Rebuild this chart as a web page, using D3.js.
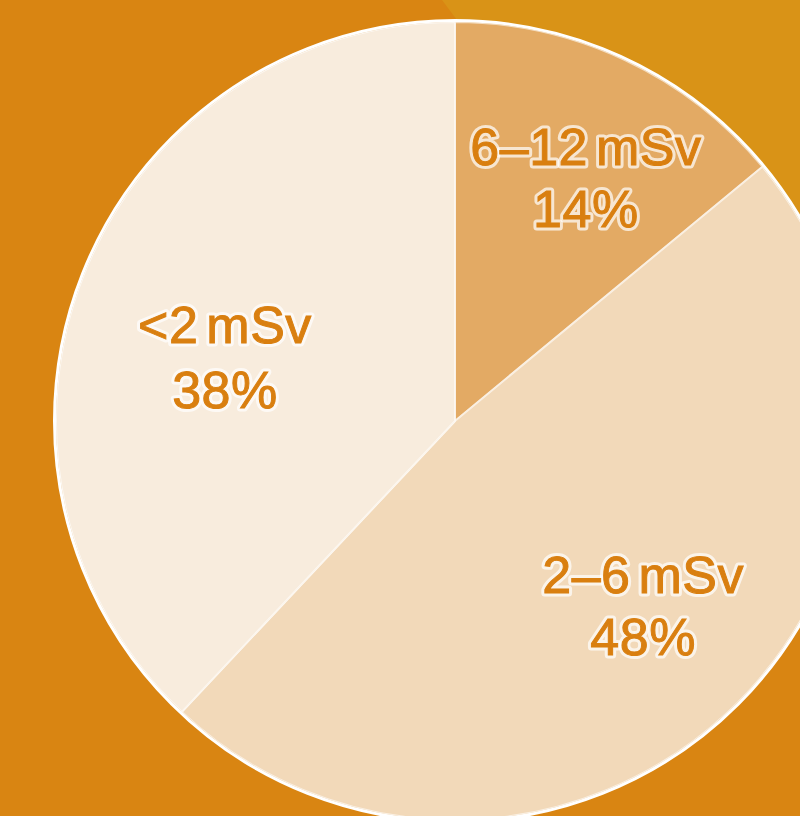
<!DOCTYPE html>
<html><head><meta charset="utf-8">
<script src="https://cdn.jsdelivr.net/npm/d3@7/dist/d3.min.js"></script>
<style>html,body{margin:0;padding:0;overflow:hidden;background:#D98512}</style>
</head><body>
<svg id="chart" width="800" height="816"></svg>
<script>
const categories = ["6–12 mSv", "2–6 mSv", "<2 mSv"];
const values = [14, 48, 38];
const percentLabels = ["14%", "48%", "38%"];
const sliceColors = ["#E3AA64", "#F2D9B9", "#F8ECDD"];

const svg = d3.select("#chart");
const W = 800, H = 816;
const cx = 455, cy = 421, R = 399;

svg.append("rect").attr("width", W).attr("height", H).attr("fill", "#D98512");
svg.append("path").attr("d", "M442,0 L800,0 L800,480 Z").attr("fill", "#D99317");

const data = categories.map((c, i) => ({cat: c, value: values[i], pct: percentLabels[i], color: sliceColors[i]}));
const pie = d3.pie().sort(null).value(d => d.value);
const arcs = pie(data);
const arc = d3.arc().innerRadius(0).outerRadius(R);

const g = svg.append("g").attr("transform", `translate(${cx},${cy})`);
g.append("circle").attr("r", R + 1.5).attr("fill", "none").attr("stroke", "#ffffff").attr("stroke-width", 3);
g.selectAll("path.slice").data(arcs).join("path")
  .attr("class", "slice")
  .attr("d", arc)
  .attr("fill", d => d.data.color)
  .attr("stroke", "rgba(255,255,255,0.6)")
  .attr("stroke-width", 2)
  .attr("stroke-linejoin", "round");

// label placement: radius fraction and angular shift (degrees) from slice mid-angle
const labelRadius = [0.652, 0.694, 0.588];
const labelAngleShift = [5, 0.4, -10.3];
const lineGap = [31, 31, 32.5];
const lab = g.selectAll("g.lab").data(arcs).join("g").attr("class", "lab")
  .attr("transform", (d, i) => {
    const a = (d.startAngle + d.endAngle) / 2 + labelAngleShift[i] * Math.PI / 180;
    const r = R * labelRadius[i];
    return `translate(${Math.sin(a) * r},${-Math.cos(a) * r})`;
  });

function addText(sel, fn, sign) {
  const t = sel.append("g");
  const common = s => s
    .attr("text-anchor", "middle")
    .attr("y", (d, i) => sign * lineGap[d.index])
    .attr("font-family", "'Liberation Sans', Arial, Helvetica, sans-serif")
    .attr("font-size", 52)
    .attr("letter-spacing", 0.5)
    .attr("word-spacing", -7)
    .text(fn);
  t.append("text").call(common)
    .attr("fill", "none")
    .attr("stroke", "rgba(255,255,255,0.7)")
    .attr("stroke-width", 7)
    .attr("stroke-linejoin", "round");
  t.append("text").call(common)
    .attr("fill", "#D97F10")
    .attr("stroke", "#D97F10")
    .attr("stroke-width", 1);
}
addText(lab, d => d.data.cat, -1);
addText(lab, d => d.data.pct, 1);
</script>
</body></html>
